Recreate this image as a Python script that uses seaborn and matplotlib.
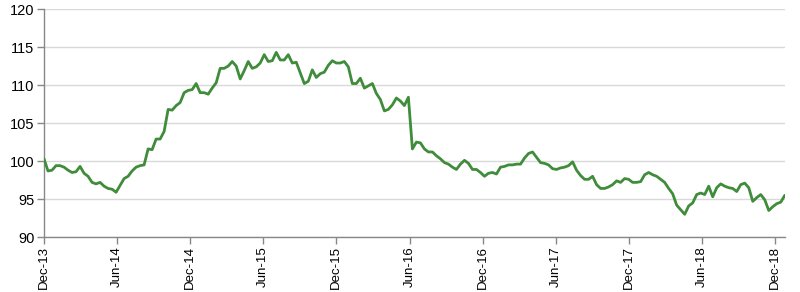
import numpy as np
import pandas as pd
import matplotlib
matplotlib.use("Agg")
import matplotlib.pyplot as plt
import matplotlib.dates as mdates
import seaborn as sns

# ---- data (one value every 10 days) ----
start_date = "2013-12-01"
step = "10D"

vals_a = [100.3, 98.7, 98.8, 99.4, 99.4, 99.2, 98.8, 98.5, 98.6, 99.3,
          98.4, 98.0, 97.2, 97.0, 97.2, 96.7, 96.4, 96.3, 95.9, 96.8,
          97.7, 98.0, 98.7, 99.2, 99.4, 99.5, 101.6, 101.5, 102.9, 102.9,
          103.9, 106.8, 106.7, 107.3, 107.7, 109.0, 109.3]
vals_b = [109.4, 110.2, 109.0, 109.0, 108.8, 109.6, 110.3, 112.2, 112.2, 112.5,
          113.1, 112.5, 110.8, 111.9, 113.1, 112.2, 112.4, 112.9, 114.0, 113.1,
          113.2, 114.3, 113.3, 113.3, 114.0, 112.9, 113.0, 111.6, 110.2, 110.5,
          112.0, 111.0, 111.5, 111.7, 112.6, 113.2, 112.9]
vals_c = [112.9, 113.1, 112.4, 110.2, 110.2, 110.9, 109.6, 109.9, 110.2, 108.9,
          108.1, 106.6, 106.8, 107.4, 108.3, 107.9, 107.3, 108.4, 101.6, 102.5,
          102.4, 101.6, 101.2, 101.2, 100.7, 100.3, 99.8, 99.6, 99.2, 98.9,
          99.6, 100.1, 99.7, 98.9, 98.9, 98.5, 98.0]
vals_d = [98.4, 98.5, 98.3, 99.2, 99.3, 99.5, 99.5, 99.6, 99.6, 100.4,
          101.0, 101.2, 100.5, 99.8, 99.7, 99.5, 99.0, 98.9, 99.1, 99.2,
          99.4, 99.9, 98.8, 98.1, 97.6, 97.6, 98.0, 96.9, 96.4, 96.4,
          96.6, 96.9, 97.4, 97.2, 97.7, 97.6, 97.2]
vals_e = [97.2, 97.3, 98.2, 98.5, 98.2, 98.0, 97.6, 97.2, 96.4, 95.7,
          94.2, 93.6, 93.0, 94.1, 94.5, 95.6, 95.8, 95.6, 96.7, 95.3,
          96.5, 97.0, 96.7, 96.5, 96.4, 96.0, 96.9, 97.1, 96.5, 94.7,
          95.2, 95.6, 94.9, 93.5, 94.0, 94.4, 94.6, 95.5]

tick_dates = ["2013-12-01", "2014-06-01", "2014-12-01", "2015-06-01",
              "2015-12-01", "2016-06-01", "2016-12-01", "2017-06-01",
              "2017-12-01", "2018-06-01", "2018-12-01"]
tick_labels = ["Dec-13", "Jun-14", "Dec-14", "Jun-15", "Dec-15", "Jun-16",
               "Dec-16", "Jun-17", "Dec-17", "Jun-18", "Dec-18"]
y_ticks = [90, 95, 100, 105, 110, 115, 120]

values = vals_a + vals_b + vals_c + vals_d + vals_e
dates = pd.date_range(start_date, periods=len(values), freq=step)
df = pd.DataFrame({"date": dates, "value": values})

# ---- style ----
sns.set_style("white")
plt.rcParams["font.family"] = ["Liberation Sans", "DejaVu Sans"]

fig = plt.figure(figsize=(8.0, 2.92), dpi=100)
ax = fig.add_axes([0.055, 0.188, 0.926, 0.781])

sns.lineplot(data=df, x="date", y="value", ax=ax, color="#3f8c3a",
             linewidth=2.0, zorder=3)

ax.set_ylim(90, 120)
ax.set_yticks(y_ticks)
ax.set_xlim(dates[0], dates[-1])
ax.set_xticks(pd.to_datetime(tick_dates))
ax.set_xticklabels(tick_labels, rotation=90)

ax.grid(axis="y", color="#d9d9d9", linewidth=1.0, zorder=0)
ax.grid(axis="x", visible=False)
ax.set_xlabel("")
ax.set_ylabel("")

for s in ["top", "right"]:
    ax.spines[s].set_visible(False)
for s in ["left", "bottom"]:
    ax.spines[s].set_color("#888888")
    ax.spines[s].set_linewidth(1.0)

ax.tick_params(axis="both", which="both", length=5, width=1.0,
               color="#888888", labelcolor="#000000",
               direction="out", pad=2)
ax.tick_params(axis="y", left=True, labelsize=10.5)
ax.tick_params(axis="x", bottom=True, labelsize=9.5, pad=1.5)

fig.savefig("out.png", dpi=100)
